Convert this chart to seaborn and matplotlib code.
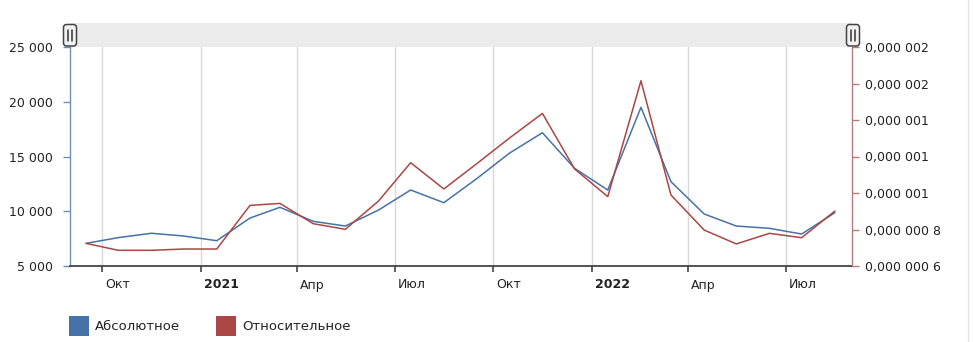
import matplotlib
matplotlib.use("Agg")
import numpy as np
import pandas as pd
import matplotlib.pyplot as plt
from matplotlib.patches import Rectangle, FancyBboxPatch
from matplotlib.lines import Line2D
from matplotlib.transforms import ScaledTranslation
from matplotlib.ticker import FuncFormatter
import seaborn as sns

# ---------------- data ----------------
dates = ['2020-09-16', '2020-10-16', '2020-11-16', '2020-12-16',
         '2021-01-16', '2021-02-16', '2021-03-16', '2021-04-16',
         '2021-05-16', '2021-06-16', '2021-07-16', '2021-08-16',
         '2021-09-16', '2021-10-16', '2021-11-16', '2021-12-16',
         '2022-01-16', '2022-02-16', '2022-03-16', '2022-04-16',
         '2022-05-16', '2022-06-16', '2022-07-16', '2022-08-16']
absolute = [7070, 7590, 7990, 7740, 7310, 9380, 10360, 9080,
            8650, 10110, 11940, 10780, 13000, 15290, 17170, 13920,
            11940, 19490, 12700, 9750, 8650, 8440, 7920, 9870]
relative = [7.24e-7, 6.86e-7, 6.86e-7, 6.93e-7, 6.93e-7, 9.32e-7, 9.43e-7, 8.32e-7,
            8.01e-7, 9.56e-7, 1.166e-6, 1.022e-6, 1.162e-6, 1.300e-6, 1.436e-6, 1.132e-6,
            9.80e-7, 1.615e-6, 9.89e-7, 7.97e-7, 7.21e-7, 7.79e-7, 7.55e-7, 9.01e-7]
series_names = ['Абсолютное', 'Относительное']

tick_dates = ['2020-10-01', '2021-01-01', '2021-04-01', '2021-07-01',
              '2021-10-01', '2022-01-01', '2022-04-01', '2022-07-01']
tick_labels = ['Окт', '2021', 'Апр', 'Июл', 'Окт', '2022', 'Апр', 'Июл']
abs_ticks = [5000, 10000, 15000, 20000, 25000]
rel_ticks = [6e-7, 8e-7, 1.0e-6, 1.2e-6, 1.4e-6, 1.6e-6, 1.8e-6]
rel_tick_labels = ['0,000 000 6', '0,000 000 8', '0,000 001', '0,000 001',
                   '0,000 001', '0,000 002', '0,000 002']
x_range = ['2020-09-01', '2022-09-01']

BLUE = '#4572A7'
RED = '#AA4643'
TXT = '#222222'

# ---------------- figure ----------------
sns.set_style('white')
plt.rcParams['font.family'] = ['DejaVu Sans']
plt.rcParams['font.size'] = 9

W, H = 974, 342
fig = plt.figure(figsize=(W / 100, H / 100), dpi=100)
L, R, T, B = 70, 852, 47, 266
ax = fig.add_axes([L / W, (H - B) / H, (R - L) / W, (B - T) / H])
ax2 = ax.twinx()

df = pd.DataFrame({'date': pd.to_datetime(dates), 'abs': absolute, 'rel': relative})
sns.lineplot(data=df, x='date', y='abs', ax=ax, color=BLUE, lw=1.1)
sns.lineplot(data=df, x='date', y='rel', ax=ax2, color=RED, lw=1.1)

ax.set_xlim(pd.to_datetime(x_range[0]), pd.to_datetime(x_range[1]))
ax.set_ylim(abs_ticks[0], abs_ticks[-1])
ax2.set_ylim(rel_ticks[0], rel_ticks[-1])
for a in (ax, ax2):
    a.set_xlabel('')
    a.set_ylabel('')

# x axis
ax.set_xticks(pd.to_datetime(tick_dates))
ax.set_xticklabels(tick_labels)
ax.tick_params(axis='x', bottom=True, length=4, width=1.2, color='#444444',
               pad=5, labelsize=9, labelcolor=TXT)
off = ScaledTranslation(3 / 100, 0, fig.dpi_scale_trans)
for lab, txt in zip(ax.get_xticklabels(), tick_labels):
    lab.set_horizontalalignment('left')
    lab.set_transform(lab.get_transform() + off)
    if txt.isdigit():
        lab.set_fontweight('bold')
ax.xaxis.grid(True, color='#D9D9D9', lw=1)
ax.yaxis.grid(False)

# left axis
ax.set_yticks(abs_ticks)
ax.yaxis.set_major_formatter(FuncFormatter(lambda v, p: f"{int(v):,}".replace(',', ' ')))
ax.tick_params(axis='y', left=True, length=5, width=1, color='#6F8FBA',
               pad=7, labelsize=9, labelcolor=TXT)

# right axis
ax2.set_yticks(rel_ticks)
ax2.set_yticklabels(rel_tick_labels)
ax2.tick_params(axis='y', right=True, left=False, length=5, width=1, color='#B47C7A',
                pad=4, labelsize=9, labelcolor=TXT)

for a in (ax, ax2):
    a.spines['top'].set_visible(False)
ax.spines['right'].set_visible(False)
ax.spines['left'].set_color('#6F8FBA')
ax.spines['left'].set_linewidth(1.0)
ax.spines['bottom'].set_color('#444444')
ax.spines['bottom'].set_linewidth(1.3)
ax2.spines['left'].set_visible(False)
ax2.spines['bottom'].set_visible(False)
ax2.spines['right'].set_color('#B47C7A')
ax2.spines['right'].set_linewidth(1.0)

# ---------------- overlay in pixel coordinates ----------------
ov = fig.add_axes([0, 0, 1, 1], zorder=10)
ov.set_xlim(0, W)
ov.set_ylim(H, 0)
ov.axis('off')

# navigator band
ov.add_patch(Rectangle((L, 23), R - L, 24, fc='#EBEBEB', ec='none'))
for cx in (70, 853):
    ov.add_patch(FancyBboxPatch((cx - 6.5, 24.5), 13, 21.5,
                                boxstyle='round,pad=0,rounding_size=3',
                                fc='#F2F2F2', ec='#444444', lw=1.1))
    for dx in (-1.8, 1.8):
        ov.add_line(Line2D([cx + dx, cx + dx], [30, 40.5], color='#333333', lw=1.1))

# right border line
ov.add_line(Line2D([968, 968], [0, H], color='#E3E3E3', lw=1))

# legend
ov.add_patch(Rectangle((69, 316), 20, 20, fc=BLUE, ec='none'))
ov.text(95, 326.5, series_names[0], va='center', ha='left', fontsize=9.5, color=TXT)
ov.add_patch(Rectangle((216, 316), 20, 20, fc=RED, ec='none'))
ov.text(242, 326.5, series_names[1], va='center', ha='left', fontsize=9.5, color=TXT)

fig.savefig('out.png', dpi=100)
